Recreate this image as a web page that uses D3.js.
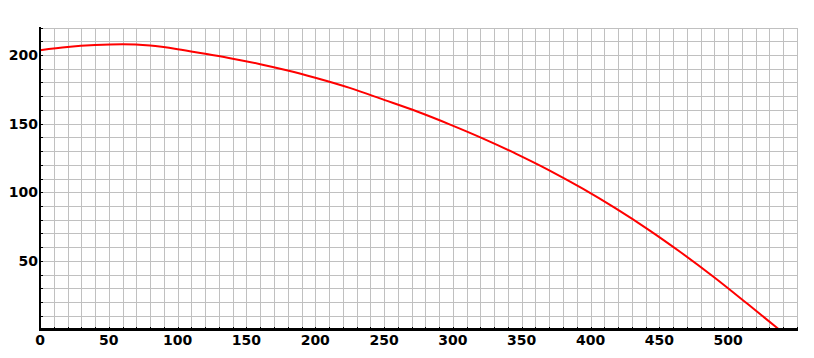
<!DOCTYPE html>
<html>
<head>
<meta charset="utf-8">
<script src="https://cdn.jsdelivr.net/npm/d3@7"></script>
<style>
	body { margin: 0; background: #fff; }
	svg { display: block; }
	.lbl { font-family: "DejaVu Sans", Verdana, sans-serif; font-weight: bold; font-size: 14px; fill: #000; }
</style>
</head>
<body>
<div id="chart"></div>
<script>
// --------- Data ---------- //
var distX = [0, 20, 40, 60, 80, 100, 120, 140, 160, 180, 200, 225, 250, 274, 298, 322, 346, 370, 394, 418, 442, 466, 490, 514, 537];
var heightY = [203.5, 205.8, 207.2, 207.8, 206.8, 204.2, 200.8, 197.3, 193.3, 188.7, 183.4, 176.0, 167.3, 158.8, 149.3, 139.1, 128.0, 116.0, 102.8, 88.4, 72.8, 55.9, 37.9, 18.7, 0];
var xTickLabels = [0, 50, 100, 150, 200, 250, 300, 350, 400, 450, 500];
var yTickLabels = [50, 100, 150, 200];
var gridStep = 10;
// --------- /Data ---------- //

(function(){

	var W = 814, H = 358;
	var left = 40, right = 797, top = 27.5, bottom = 329.5;

	var x = d3.scaleLinear().domain([0, 550]).range([left, right]);
	var y = d3.scaleLinear().domain([0, 220]).range([bottom, top]);

	var svg = d3.select("#chart")
		.append("svg")
		.attr("width", W)
		.attr("height", H);

	// grid
	var xGrid = d3.range(0, 550 + 1, gridStep);
	var yGrid = d3.range(0, 220 + 1, gridStep);

	svg.append("g")
		.selectAll("line")
		.data(xGrid)
		.join("line")
		.attr("x1", function(d){ return Math.round(x(d)) + 0.5; })
		.attr("x2", function(d){ return Math.round(x(d)) + 0.5; })
		.attr("y1", top)
		.attr("y2", bottom)
		.style("stroke", "#c0c0c0")
		.style("stroke-width", 1)
		.style("shape-rendering", "crispEdges");

	svg.append("g")
		.selectAll("line")
		.data(yGrid)
		.join("line")
		.attr("x1", left)
		.attr("x2", right + 0.5)
		.attr("y1", function(d){ return Math.round(y(d)) + 0.5; })
		.attr("y2", function(d){ return Math.round(y(d)) + 0.5; })
		.style("stroke", "#c0c0c0")
		.style("stroke-width", 1)
		.style("shape-rendering", "crispEdges");

	// curve
	var pts = distX.map(function(d, i){ return [d, heightY[i]]; });
	var line = d3.line()
		.curve(d3.curveMonotoneX)
		.x(function(d){ return x(d[0]); })
		.y(function(d){ return y(d[1]); });

	svg.append("path")
		.datum(pts)
		.attr("d", line)
		.style("fill", "none")
		.style("stroke", "#ff0000")
		.style("stroke-width", 2);

	// axes lines + small ticks
	var axisG = svg.append("g").style("shape-rendering", "crispEdges");

	axisG.selectAll("line.xt")
		.data(xGrid)
		.join("line")
		.attr("class", "xt")
		.attr("x1", function(d){ return Math.round(x(d)) + 0.5; })
		.attr("x2", function(d){ return Math.round(x(d)) + 0.5; })
		.attr("y1", bottom - 3)
		.attr("y2", bottom)
		.style("stroke", "#000");

	axisG.selectAll("line.yt")
		.data(yGrid)
		.join("line")
		.attr("class", "yt")
		.attr("x1", left)
		.attr("x2", left + 3)
		.attr("y1", function(d){ return Math.round(y(d)) + 0.5; })
		.attr("y2", function(d){ return Math.round(y(d)) + 0.5; })
		.style("stroke", "#000");

	axisG.append("line")
		.attr("x1", left - 1).attr("x2", right + 1)
		.attr("y1", bottom).attr("y2", bottom)
		.style("stroke", "#000")
		.style("stroke-width", 3);

	axisG.append("line")
		.attr("x1", left).attr("x2", left)
		.attr("y1", top - 1).attr("y2", bottom + 1)
		.style("stroke", "#000")
		.style("stroke-width", 2.5);

	// tick labels
	svg.append("g")
		.selectAll("text")
		.data(xTickLabels)
		.join("text")
		.attr("class", "lbl")
		.attr("x", function(d){ return x(d); })
		.attr("y", 345)
		.attr("text-anchor", "middle")
		.text(function(d){ return d; });

	svg.append("g")
		.selectAll("text")
		.data(yTickLabels)
		.join("text")
		.attr("class", "lbl")
		.attr("x", 38)
		.attr("y", function(d){ return y(d) + 5; })
		.attr("text-anchor", "end")
		.text(function(d){ return d; });

})();
</script>
</body>
</html>
